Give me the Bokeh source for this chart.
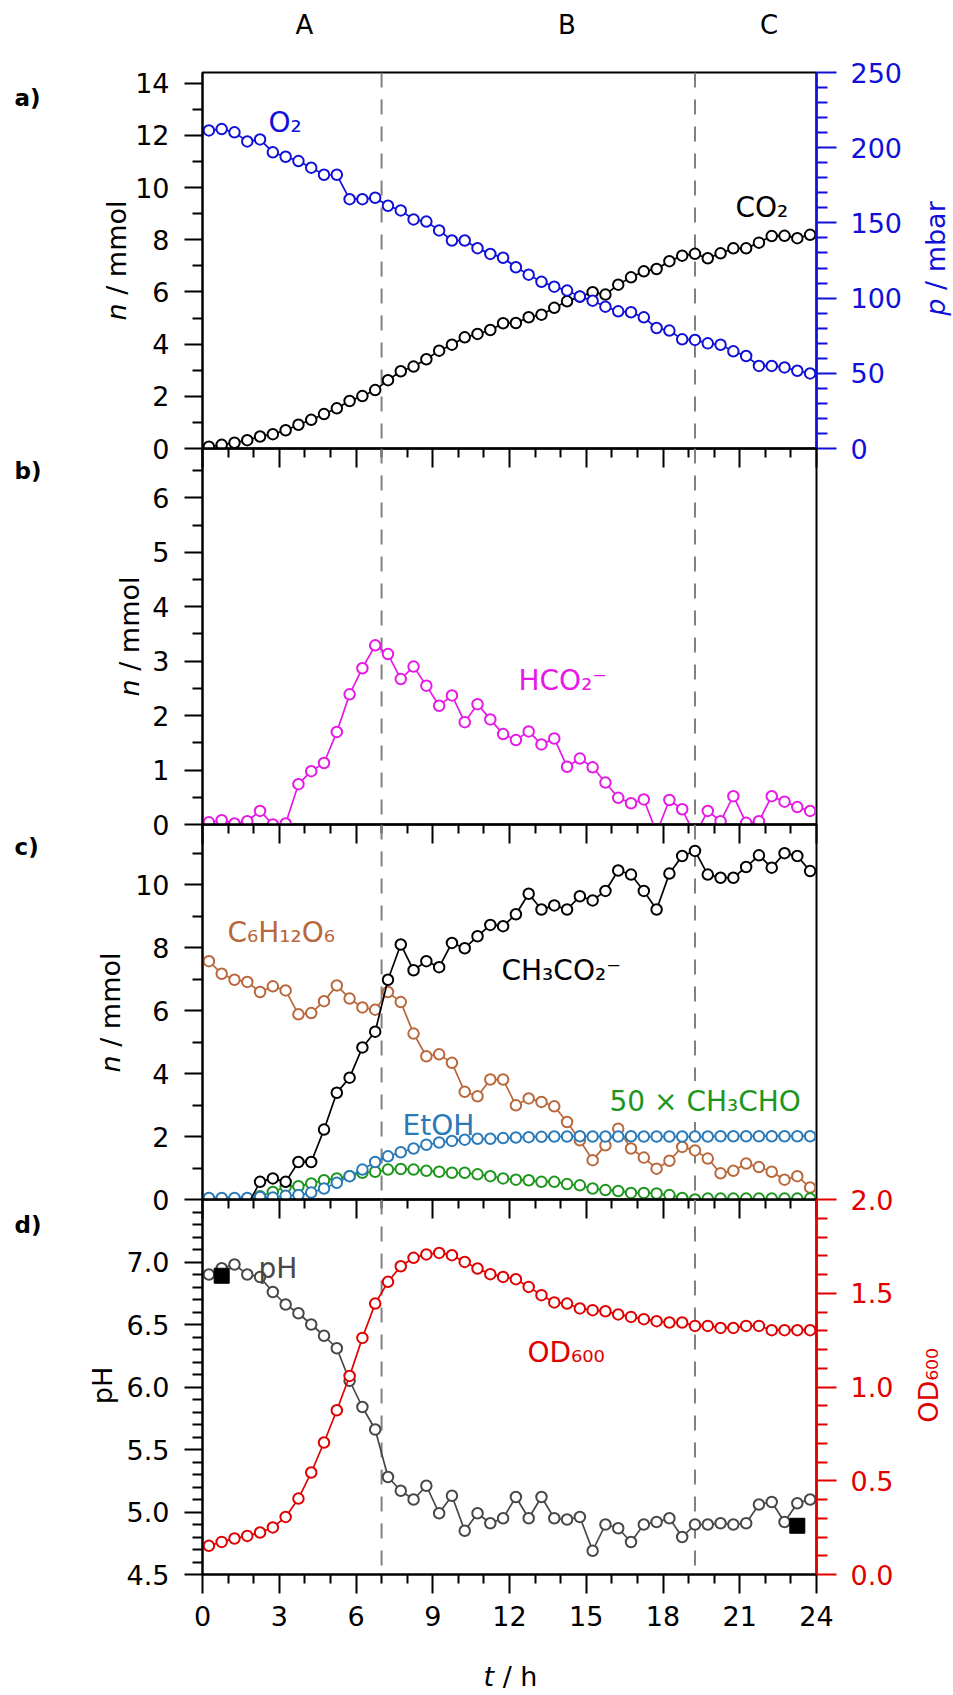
import numpy as np
from bokeh.plotting import figure
from bokeh.layouts import column
from bokeh.models import (Range1d, LinearAxis, FixedTicker, Span, Label,
                          NumeralTickFormatter)
from bokeh.embed import file_html
from bokeh.resources import INLINE

# ---------------------------------------------------------------- data
t_h = [0.25, 0.75, 1.25, 1.75, 2.25, 2.75, 3.25, 3.75, 4.25, 4.75, 5.25, 5.75,
       6.25, 6.75, 7.25, 7.75, 8.25, 8.75, 9.25, 9.75, 10.25, 10.75, 11.25, 11.75,
       12.25, 12.75, 13.25, 13.75, 14.25, 14.75, 15.25, 15.75, 16.25, 16.75, 17.25, 17.75,
       18.25, 18.75, 19.25, 19.75, 20.25, 20.75, 21.25, 21.75, 22.25, 22.75, 23.25, 23.75]
t_o2 = t_h + [24.25]

co2_mmol = [0.07, 0.14, 0.22, 0.32, 0.46, 0.55, 0.70, 0.91, 1.10, 1.32, 1.54, 1.82,
            2.01, 2.24, 2.62, 2.96, 3.14, 3.42, 3.75, 3.98, 4.26, 4.39, 4.54, 4.80,
            4.81, 5.03, 5.13, 5.39, 5.64, 5.82, 5.99, 5.90, 6.28, 6.56, 6.79, 6.88,
            7.18, 7.39, 7.46, 7.29, 7.48, 7.67, 7.67, 7.89, 8.14, 8.15, 8.06, 8.19]
o2_mbar = [211.5, 212.4, 210.2, 204.2, 205.5, 196.9, 194.0, 191.1, 186.7, 182.0, 182.0, 165.8,
           165.8, 166.7, 161.4, 158.3, 152.3, 150.9, 145.0, 138.3, 138.3, 133.2, 129.4, 126.8,
           120.5, 115.6, 110.8, 107.6, 105.0, 101.0, 98.3, 94.3, 91.2, 90.6, 87.2, 80.1,
           78.4, 72.6, 72.2, 69.9, 69.0, 64.6, 61.5, 54.9, 54.9, 53.9, 51.7, 49.9, 46.0]
formate_mmol = [0.04, 0.08, 0.02, 0.06, 0.25, 0.0, 0.02, 0.74, 0.98, 1.13, 1.70, 2.39,
                2.87, 3.29, 3.13, 2.67, 2.90, 2.55, 2.18, 2.37, 1.88, 2.21, 1.93, 1.66,
                1.55, 1.71, 1.47, 1.58, 1.06, 1.21, 1.05, 0.77, 0.49, 0.39, 0.46, -0.15,
                0.45, 0.28, -0.2, 0.25, 0.06, 0.52, 0.03, 0.06, 0.52, 0.42, 0.32, 0.25]
glucose_mmol = [7.57, 7.17, 6.98, 6.91, 6.59, 6.77, 6.64, 5.88, 5.92, 6.30, 6.80, 6.38,
                6.10, 6.03, 6.59, 6.27, 5.27, 4.55, 4.61, 4.34, 3.42, 3.28, 3.81, 3.81,
                2.99, 3.21, 3.10, 2.96, 2.46, 1.88, 1.25, 1.72, 2.25, 1.62, 1.33, 0.98,
                1.23, 1.67, 1.56, 1.30, 0.83, 0.91, 1.14, 1.03, 0.88, 0.63, 0.74, 0.38]
acetate_mmol = [np.nan, np.nan, np.nan, -0.2, 0.56, 0.67, 0.56, 1.19, 1.19, 2.22, 3.39, 3.87,
                4.83, 5.33, 6.98, 8.10, 7.28, 7.57, 7.38, 8.15, 7.98, 8.36, 8.72, 8.68,
                9.06, 9.71, 9.21, 9.34, 9.21, 9.63, 9.50, 9.80, 10.45, 10.32, 9.80, 9.21,
                10.35, 10.91, 11.07, 10.32, 10.22, 10.22, 10.56, 10.93, 10.54, 11.00, 10.91, 10.43]
ethanol_mmol = [0.05, 0.05, 0.05, 0.05, 0.08, 0.06, 0.12, 0.14, 0.22, 0.35, 0.53, 0.74,
                0.95, 1.19, 1.37, 1.50, 1.62, 1.74, 1.81, 1.86, 1.90, 1.93, 1.93, 1.95,
                1.97, 1.98, 1.99, 2.00, 2.00, 2.01, 2.00, 2.00, 2.00, 2.01, 2.00, 2.00,
                2.00, 2.00, 2.00, 2.00, 2.01, 2.01, 2.01, 2.01, 2.01, 2.01, 2.01, 2.01]
acetaldehyde_x50_mmol = [0.0, 0.0, 0.0, 0.0, 0.10, 0.24, 0.40, 0.42, 0.51, 0.61, 0.67, 0.74,
                         0.85, 0.88, 0.95, 0.97, 0.95, 0.91, 0.88, 0.85, 0.85, 0.80, 0.74, 0.67,
                         0.63, 0.61, 0.56, 0.56, 0.49, 0.45, 0.35, 0.30, 0.27, 0.21, 0.21, 0.19,
                         0.14, 0.05, 0.0, 0.03, 0.03, 0.03, 0.03, 0.03, 0.03, 0.03, 0.03, 0.03]
ph_values = [6.90, 6.95, 6.98, 6.90, 6.88, 6.76, 6.66, 6.59, 6.50, 6.41, 6.31, 6.05,
             5.84, 5.66, 5.28, 5.17, 5.10, 5.21, 4.99, 5.13, 4.85, 4.99, 4.91, 4.95,
             5.12, 4.95, 5.12, 4.95, 4.94, 4.96, 4.69, 4.90, 4.87, 4.76, 4.90, 4.92,
             4.95, 4.80, 4.90, 4.90, 4.91, 4.90, 4.91, 5.06, 5.08, 4.92, 5.07, 5.10]
od600_values = [0.153, 0.174, 0.192, 0.206, 0.224, 0.251, 0.307, 0.405, 0.544, 0.704, 0.876, 1.059,
                1.262, 1.445, 1.561, 1.644, 1.689, 1.707, 1.715, 1.703, 1.667, 1.632, 1.602, 1.587,
                1.575, 1.534, 1.490, 1.451, 1.445, 1.419, 1.410, 1.404, 1.387, 1.374, 1.362, 1.351,
                1.344, 1.344, 1.326, 1.326, 1.315, 1.315, 1.326, 1.326, 1.303, 1.303, 1.303, 1.303]
ph_ref_t = [0.75, 23.25]
ph_ref_values = [6.89, 4.89]

phase_bounds_h = [7.0, 19.25]
phase_names = ["A", "B", "C"]
phase_label_t = [3.98, 14.24, 22.15]

x_ticks = [0, 3, 6, 9, 12, 15, 18, 21, 24]
x_minor = [h for h in range(25) if h % 3]

# ---------------------------------------------------------------- layout
FONT = "DejaVu Sans"
W, H = 953, 1695
LEFT, RIGHT = 202, 137
FW = W - LEFT - RIGHT
PANEL = {"a": (72, 448), "b": (448, 824), "c": (824, 1199), "d": (1199, 1574)}
YR = {"a": (0, 14.41), "b": (0, 6.905), "c": (0, 11.91), "d": (4.5, 7.5)}
# side of each panel figure that has room for extra texts
TEXT_SIDE = {"a": "below", "b": "below", "c": "above", "d": "above"}

BLACK = "#000000"
BLUE = "#1010d8"
MAGENTA = "#e619e6"
BROWN = "#b9683c"
ETOH = "#2a7ab9"
GREEN = "#1e961e"
RED = "#e00000"
GRAY = "#474747"
DASH = "#808080"

FIGS = {}


def make_panel(key, first=False):
    top, bottom = PANEL[key]
    lo, hi = YR[key]
    f = figure(width=W, height=H, x_range=Range1d(0, 24), y_range=Range1d(lo, hi),
               x_axis_type=None, y_axis_type=None, toolbar_location=None,
               output_backend="svg", min_border_left=LEFT, min_border_right=RIGHT,
               min_border_top=top, min_border_bottom=H - bottom)
    f.outline_line_color = "black"
    f.outline_line_width = 2
    f.background_fill_color = None
    f.border_fill_color = "white" if first else None
    if not first:
        f.margin = (-H, 0, 0, 0)
    for b in phase_bounds_h:
        f.add_layout(Span(location=b, dimension="height", line_color=DASH, line_width=2,
                          line_dash="15 12", level="underlay"))
    FIGS[key] = f
    return f


def style(ax, color):
    ax.axis_line_color = color
    ax.axis_line_width = 2
    ax.major_tick_line_color = color
    ax.major_tick_line_width = 2
    ax.minor_tick_line_color = color
    ax.minor_tick_line_width = 2
    ax.major_label_text_color = color
    ax.major_label_text_font = FONT
    ax.major_label_text_font_size = "27px"
    ax.major_tick_in = 0
    ax.minor_tick_in = 0


def yaxis(f, side, major, minor, color, rng=None, fmt=None):
    ax = LinearAxis(ticker=FixedTicker(ticks=major, minor_ticks=minor))
    if rng is not None:
        ax.y_range_name = rng
    style(ax, color)
    if side == "left":
        ax.major_tick_out = 18
        ax.minor_tick_out = 10
        ax.major_label_standoff = 15
    else:
        ax.major_tick_out = 20
        ax.minor_tick_out = 11
        ax.major_label_standoff = 14
        ax.axis_line_width = 2.5
    if fmt:
        ax.formatter = NumeralTickFormatter(format=fmt)
    f.add_layout(ax, side)


def xaxis(f, show_labels):
    ax = LinearAxis(ticker=FixedTicker(ticks=x_ticks, minor_ticks=x_minor))
    style(ax, BLACK)
    ax.major_tick_out = 19
    ax.minor_tick_out = 9
    ax.major_label_standoff = 12
    if not show_labels:
        ax.major_label_text_color = None
    f.add_layout(ax, "below")


def series(f, t, y, color, rng="default"):
    f.line(t, y, y_range_name=rng, line_color=color, line_width=1.7)
    f.scatter(t, y, y_range_name=rng, marker="circle", size=10.5, line_color=color,
              fill_color="white", line_width=2)


# a)
pa = make_panel("a", first=True)
pa.extra_y_ranges = {"p": Range1d(0, 250)}
yaxis(pa, "left", list(range(0, 15, 2)), list(range(1, 14, 2)), BLACK)
yaxis(pa, "right", list(range(0, 251, 50)), [v for v in range(10, 250, 10) if v % 50],
      BLUE, rng="p")
xaxis(pa, False)
series(pa, t_h, co2_mmol, BLACK)
series(pa, t_o2, o2_mbar, BLUE, rng="p")

# b)
pb = make_panel("b")
yaxis(pb, "left", list(range(0, 7)), [v + 0.5 for v in range(0, 7)], BLACK)
xaxis(pb, False)
series(pb, t_h, formate_mmol, MAGENTA)

# c)
pc = make_panel("c")
yaxis(pc, "left", list(range(0, 11, 2)), list(range(1, 12, 2)), BLACK)
xaxis(pc, False)
series(pc, t_h, glucose_mmol, BROWN)
series(pc, t_h, acetaldehyde_x50_mmol, GREEN)
series(pc, t_h, ethanol_mmol, ETOH)
series(pc, t_h, np.array(acetate_mmol, dtype=float), BLACK)

# d)
pd = make_panel("d")
pd.extra_y_ranges = {"od": Range1d(0, 2.0)}
yaxis(pd, "left", [4.5, 5.0, 5.5, 6.0, 6.5, 7.0],
      [round(4.5 + 0.1 * i, 1) for i in range(1, 30) if i % 5], BLACK, fmt="0.0")
yaxis(pd, "right", [0.0, 0.5, 1.0, 1.5, 2.0],
      [round(0.1 * i, 1) for i in range(1, 20) if i % 5], RED, rng="od", fmt="0.0")
xaxis(pd, True)
series(pd, t_h, ph_values, GRAY)
series(pd, t_h, od600_values, RED, rng="od")
pd.scatter(ph_ref_t, ph_ref_values, marker="square", size=15,
           fill_color="black", line_color="black")


# ---------------------------------------------------------------- texts
# Texts live in a side panel of their panel's figure (side-panel annotations are not
# clipped to the frame); their position is given in page pixels and mapped to the
# panel's data space.
def label(key, text, px, py, color=BLACK, size="28px", align="left", baseline="alphabetic",
          fstyle="normal", angle=0.0, bg=None, pad=0):
    top, bottom = PANEL[key]
    lo, hi = YR[key]
    x = (px - LEFT) * 24.0 / FW
    y = lo + (bottom - py) * (hi - lo) / (bottom - top)
    lab = Label(x=x, y=y, text=text, text_font=FONT, text_font_size=size,
                text_color=color, text_align=align, text_baseline=baseline,
                text_font_style=fstyle, angle=angle)
    if bg is not None:
        lab.background_fill_color = bg
        lab.padding = pad
    FIGS[key].add_layout(lab, TEXT_SIDE[key])


for name, tt in zip(phase_names, phase_label_t):
    label("a", name, LEFT + tt * FW / 24.0, 24, size="26px", align="center", baseline="middle")

for key, name, py in zip("abcd", ["a)", "b)", "c)", "d)"], [97, 470, 846, 1224]):
    label(key, name, 14, py, size="23px", fstyle="bold", baseline="middle")

label("a", "O\u2082", 268, 122, color=BLUE)
label("a", "CO\u2082", 735, 207)
label("b", "HCO\u2082\u207b", 518, 680, color=MAGENTA)
label("c", "C\u2086H\u2081\u2082O\u2086", 227, 932, color=BROWN)
label("c", "CH\u2083CO\u2082\u207b", 501, 970)
label("c", "EtOH", 402, 1125, color=ETOH)
label("c", "50 \u00d7 CH\u2083CHO", 605, 1101, color=GREEN, bg="white", pad=4)
label("d", "pH", 258, 1268, color=GRAY)
label("d", "OD\u2086\u2080\u2080", 527, 1352, color=RED)

EM = 27.0
ROT = np.pi / 2


def rot_label(key, first, rest, w_first, w_rest, cx, cy, color=BLACK):
    split = cy + (w_first + w_rest) * EM / 2 - w_first * EM
    label(key, first, cx, split, color=color, size="27px", align="right",
          baseline="middle", fstyle="italic", angle=ROT)
    label(key, rest, cx, split, color=color, size="27px", align="left",
          baseline="middle", angle=ROT)


rot_label("a", "n", "\u00a0/ mmol", 0.634, 3.811, 116, 260)
rot_label("b", "n", "\u00a0/ mmol", 0.634, 3.811, 129, 636)
rot_label("c", "n", "\u00a0/ mmol", 0.634, 3.811, 110, 1012)
rot_label("a", "p", "\u00a0/ mbar", 0.635, 3.606, 935, 258, color=BLUE)
label("d", "pH", 102, 1385, size="27px", align="center", baseline="middle", angle=ROT)
label("d", "OD\u2086\u2080\u2080", 928, 1385, color=RED, size="27px", align="center",
      baseline="middle", angle=ROT)

split_t = 510 - 1.999 * EM / 2 + 0.392 * EM
label("b", "t", split_t, 1676, size="27px", align="right", baseline="middle",
      fstyle="italic")
label("b", "\u00a0/ h", split_t, 1676, size="27px", align="left", baseline="middle")

page = column(pa, pb, pc, pd, spacing=0)
open("out.html", "w").write(file_html(page, INLINE))
